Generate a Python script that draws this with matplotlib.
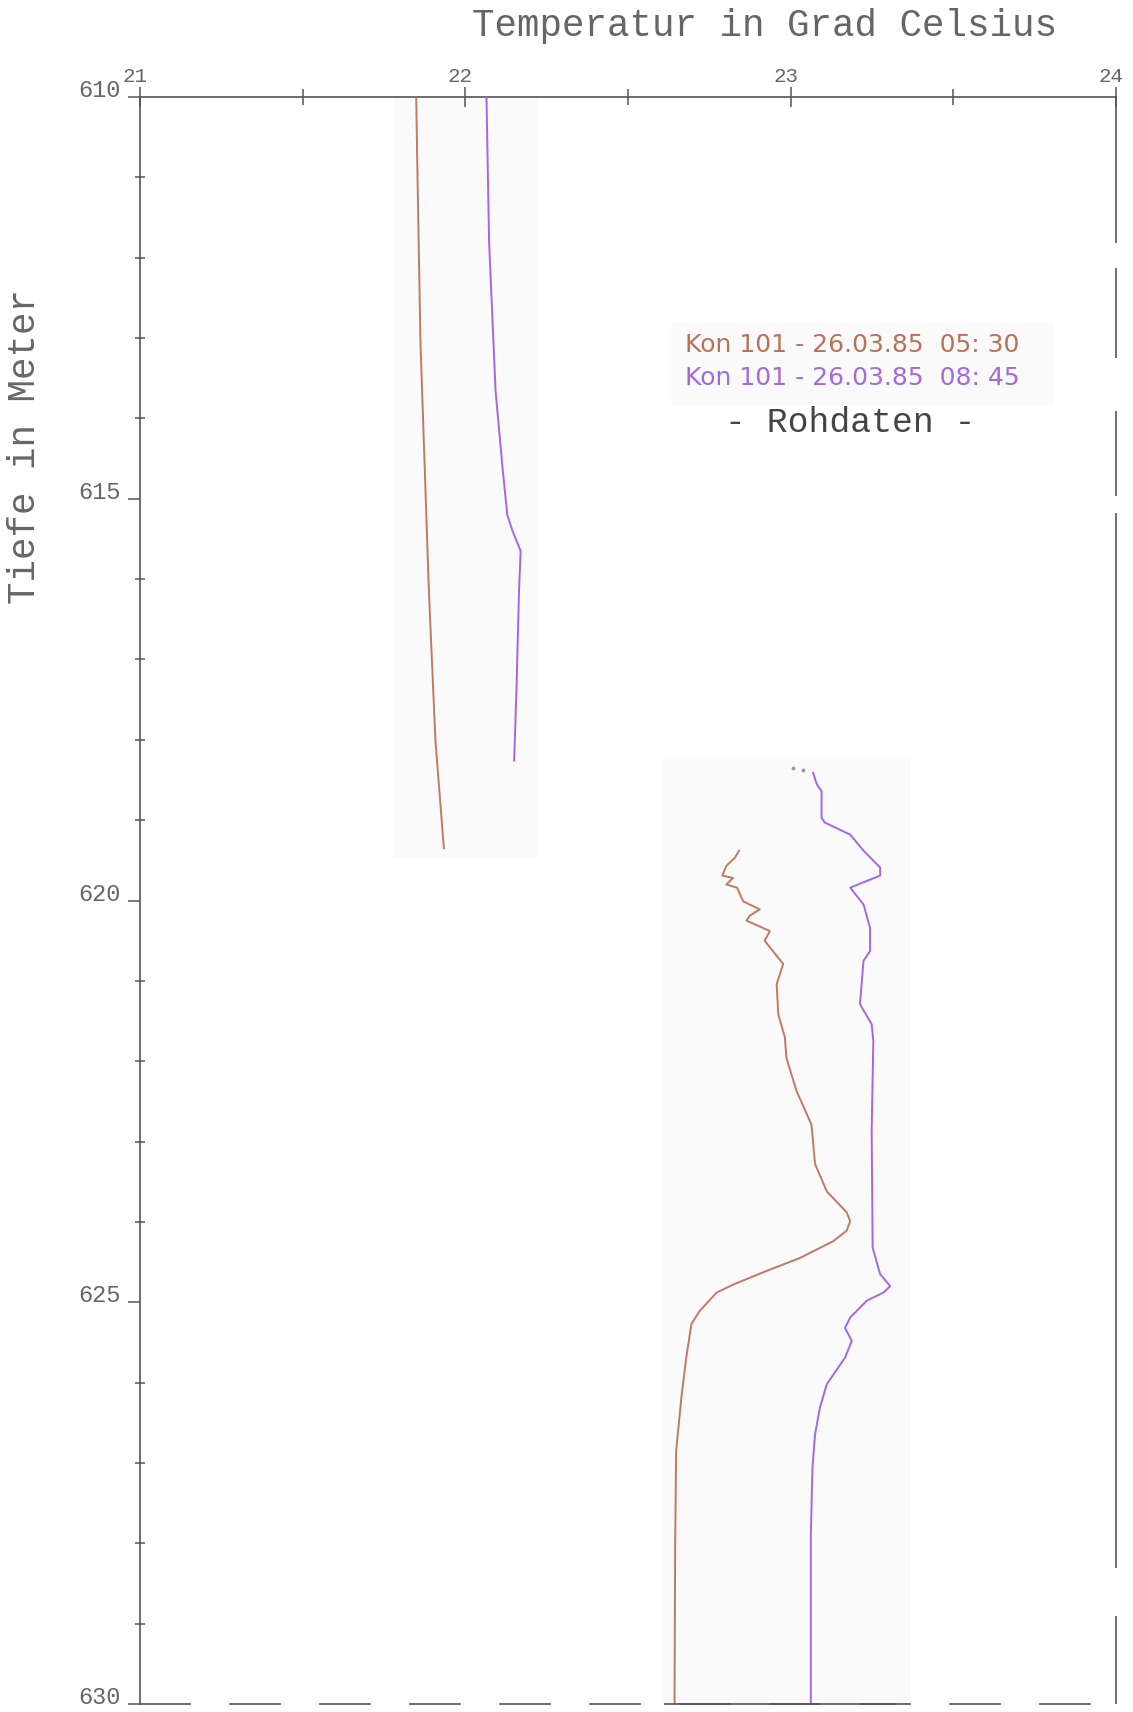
import matplotlib
matplotlib.use("Agg")
import matplotlib.pyplot as plt
import matplotlib.transforms as mtransforms
from matplotlib.patches import Rectangle

# ---------------- data ----------------
x_major = [21, 22, 23, 24]
x_minor = [21.5, 22.5, 23.5]
y_major = [610, 615, 620, 625, 630]
y_minor = [611, 612, 613, 614, 616, 617, 618, 619, 621, 622, 623, 624, 626, 627, 628, 629]

# Kon 101 - 26.03.85 05:30 (brown)
brown_upper_depth = [610.0, 611.0, 613.04, 616.15, 618.0, 619.35]
brown_upper_temp = [21.849, 21.853, 21.862, 21.888, 21.908, 21.934]

brown_lower_depth = [619.38, 619.47, 619.57, 619.69, 619.72, 619.80, 619.84, 620.01, 620.11,
                     620.19, 620.25, 620.38, 620.50, 620.79, 621.04, 621.42, 621.70, 621.96,
                     622.37, 622.79, 623.28, 623.62, 623.88, 623.99, 624.11, 624.24, 624.45,
                     624.61, 624.78, 624.88, 625.11, 625.27, 625.69, 626.19, 626.85, 628.0, 630.0]
brown_lower_temp = [22.841, 22.828, 22.802, 22.790, 22.823, 22.802, 22.835, 22.854, 22.905,
                    22.874, 22.864, 22.936, 22.920, 22.977, 22.957, 22.962, 22.982, 22.987,
                    23.018, 23.064, 23.075, 23.111, 23.172, 23.183, 23.172, 23.131, 23.028,
                    22.926, 22.823, 22.772, 22.720, 22.695, 22.679, 22.664, 22.648, 22.645, 22.643]

# Kon 101 - 26.03.85 08:45 (purple)
purple_upper_depth = [610.0, 611.8, 613.66, 614.6, 615.2, 615.4, 615.65, 616.15, 617.4, 618.26]
purple_upper_temp = [22.065, 22.073, 22.093, 22.114, 22.129, 22.145, 22.170, 22.165, 22.157, 22.150]

purple_lower_depth = [618.41, 618.55, 618.64, 618.97, 619.03, 619.18, 619.38, 619.59, 619.69,
                      619.84, 620.05, 620.34, 620.63, 620.75, 621.29, 621.54, 621.75, 622.87,
                      624.32, 624.65, 624.80, 624.88, 624.98, 625.19, 625.32, 625.48, 625.69,
                      626.02, 626.31, 626.64, 627.06, 627.89, 630.0]
purple_lower_temp = [23.069, 23.080, 23.095, 23.095, 23.105, 23.183, 23.224, 23.275, 23.275,
                     23.183, 23.224, 23.244, 23.244, 23.224, 23.213, 23.249, 23.254, 23.249,
                     23.252, 23.275, 23.306, 23.285, 23.234, 23.183, 23.167, 23.188, 23.167,
                     23.111, 23.090, 23.075, 23.067, 23.062, 23.062]

lead_dots_depth = [618.35, 618.38]
lead_dots_temp = [23.008, 23.039]

legend_lines = ["Kon 101 - 26.03.85  05: 30", "Kon 101 - 26.03.85  08: 45"]
title_x = "Temperatur in Grad Celsius"
title_y = "Tiefe in Meter"
subtitle = "- Rohdaten -"

# ---------------- style ----------------
BROWN = "#c07a62"
PURPLE = "#a466e4"
BROWN_TXT = "#b8725a"
PURPLE_TXT = "#a46ad8"
AX = "#555555"
TXT = "#666666"
MONO = "Liberation Mono"

fig = plt.figure(figsize=(11.33, 17.12), dpi=100)
fig.patch.set_facecolor("white")
ax = fig.add_axes([140 / 1133, 1 - 1704 / 1712, (1116 - 140) / 1133, (1704 - 97) / 1712])

ax.set_xlim(21, 24)
ax.set_ylim(630, 610)

# faint scan patches behind curves
for (x0, x1, y0, y1) in [(21.78, 22.227, 610.0, 619.47),
                         (22.603, 23.371, 618.24, 630.0),
                         (22.631, 23.808, 612.81, 613.83)]:
    ax.add_patch(Rectangle((x0, y0), x1 - x0, y1 - y0, facecolor="#fafafa",
                           edgecolor="none", zorder=0))

ax.plot(brown_upper_temp, brown_upper_depth, color=BROWN, lw=1.4, zorder=3)
ax.plot(brown_lower_temp, brown_lower_depth, color=BROWN, lw=1.4, zorder=3)
ax.plot(purple_upper_temp, purple_upper_depth, color=PURPLE, lw=1.4, zorder=3)
ax.plot(purple_lower_temp, purple_lower_depth, color=PURPLE, lw=1.4, zorder=3)
ax.scatter(lead_dots_temp, lead_dots_depth, s=3, color="#999999", zorder=3)

# axes / spines
ax.xaxis.set_ticks_position("top")
ax.xaxis.set_label_position("top")
ax.set_xticks(x_major)
ax.set_xticks(x_minor, minor=True)
ax.set_xticklabels([str(v) for v in x_major])
ax.set_yticks(y_major)
ax.set_yticks(y_minor, minor=True)
ax.set_yticklabels([str(v) for v in y_major])

ax.tick_params(axis="x", which="major", direction="inout", length=13.7, width=1.1,
               color=AX, pad=1, labelsize=15, labelcolor=TXT)
ax.tick_params(axis="x", which="minor", direction="inout", length=11.5, width=1.1, color=AX)
ax.tick_params(axis="y", which="major", direction="out", length=8.6, width=1.1,
               color=AX, pad=5.0, labelsize=17, labelcolor=TXT)
ax.tick_params(axis="y", which="minor", direction="inout", length=6.5, width=1.1, color=AX)
for lbl in ax.get_xticklabels() + ax.get_yticklabels():
    lbl.set_fontfamily(MONO)
for lbl in ax.get_yticklabels():
    lbl.set_va("baseline")
shift = mtransforms.ScaledTranslation(-5 / 100, 0, fig.dpi_scale_trans)
for lbl in ax.get_xticklabels():
    lbl.set_transform(lbl.get_transform() + shift)

for s in ["top", "left", "bottom", "right"]:
    ax.spines[s].set_color(AX)
    ax.spines[s].set_linewidth(1.2)
ax.spines["bottom"].set_linestyle((0, (30, 24)))
ax.spines["right"].set_visible(False)
# broken right border (scan look)
right_segments = [(610.0, 611.82), (612.13, 613.25), (613.91, 614.97),
                  (615.18, 628.31), (628.90, 630.0)]
for y0, y1 in right_segments:
    ax.plot([24, 24], [y0, y1], color=AX, lw=1.2, clip_on=False, zorder=4,
            solid_capstyle="butt")
# solid piece of the bottom border under the lower scan patch
ax.plot([22.612, 23.324], [630, 630], color=AX, lw=1.2, clip_on=False, zorder=4,
        solid_capstyle="butt")

# texts
fig.text(765 / 1133, 1 - 26 / 1712, title_x, family=MONO, fontsize=27, color=TXT,
         ha="center", va="center")
fig.text(25 / 1133, 1 - 447 / 1712, title_y, family=MONO, fontsize=27, color=TXT,
         ha="center", va="center", rotation=90)
fig.text(685 / 1133, 1 - 345 / 1712, legend_lines[0], family="DejaVu Sans",
         fontsize=18, color=BROWN_TXT, ha="left", va="center")
fig.text(685 / 1133, 1 - 378 / 1712, legend_lines[1], family="DejaVu Sans",
         fontsize=18, color=PURPLE_TXT, ha="left", va="center")
fig.text(850 / 1133, 1 - 422 / 1712, subtitle, family=MONO, fontsize=25, color="#444444",
         ha="center", va="center")

fig.savefig("out.png", dpi=100, facecolor="white")
